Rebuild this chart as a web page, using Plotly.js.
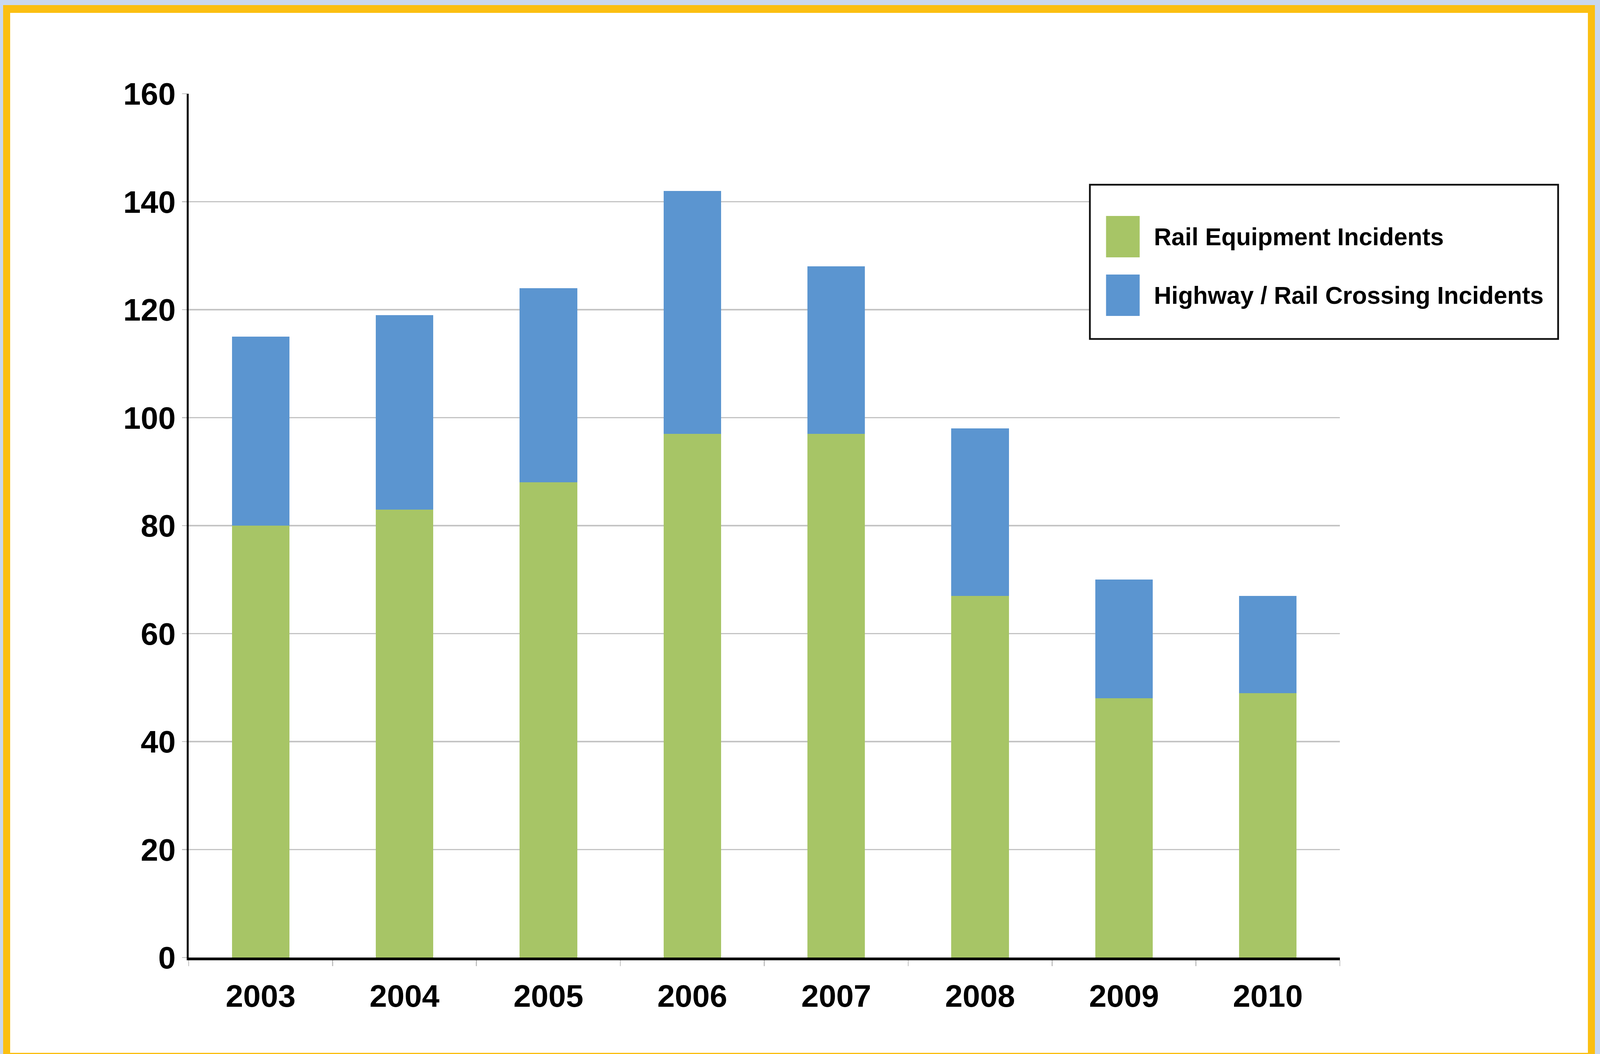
<!DOCTYPE html>
<html>
<head>
<meta charset="utf-8">
<script src="https://cdn.plot.ly/plotly-3.0.1.min.js"></script>
<style>
  html, body { margin:0; padding:0; width:100%; height:100%; background:#c9d8ef; overflow:hidden; }
  #frame { position:absolute; box-sizing:border-box; border-style:solid; border-color:#fbbf12; background:#ffffff; }
  #chart { position:absolute; left:0; top:0; }
</style>
</head>
<body>
<div id="frame"></div>
<div id="chart"></div>
<script>
// ---- data ----
const years = ['2003', '2004', '2005', '2006', '2007', '2008', '2009', '2010'];
const railEquipment = [80, 83, 88, 97, 97, 67, 48, 49];
const highwayCrossing = [35, 36, 36, 45, 31, 31, 22, 18];
const seriesNames = ['Rail Equipment Incidents', 'Highway / Rail Crossing Incidents'];
const yTicks = [0, 20, 40, 60, 80, 100, 120, 140, 160];

const colors = ['#a7c566', '#5b95d0'];

// ---- map the 4949x2699 design onto the real viewport ----
const DW = 4949, DH = 2699;
const VW = window.innerWidth || DW, VH = window.innerHeight || DH;
const sx = VW / DW, sy = VH / DH, s = Math.sqrt(sx * sy);

// pick a condensed face if present (reference lettering is condensed)
function textWidth(txt, fam) {
  const c = document.createElement('canvas').getContext('2d');
  c.font = 'bold 100px ' + fam;
  return c.measureText(txt).width;
}
const probe = 'Rail Equipment Incidents 2003';
const hasNarrow = Math.abs(textWidth(probe, '"Liberation Sans Narrow", monospace') - textWidth(probe, 'monospace')) > 1;
const fontFamily = hasNarrow ? '"Liberation Sans Narrow", "Liberation Sans", Arial, sans-serif'
                             : '"Liberation Sans", Arial, Helvetica, sans-serif';
const legendSize = Math.min(1218 * sx / textWidth(seriesNames[1], fontFamily) * 100 * 0.99, 92 * sy);
const tickSize = Math.min(208 * sx / textWidth('2003', fontFamily) * 100 * 1.04, 100 * sy);

// frame (yellow border)
const fr = document.getElementById('frame');
fr.style.left = (10 * sx) + 'px';
fr.style.top = (13 * sy) + 'px';
fr.style.width = ((4933 - 10) * sx) + 'px';
fr.style.height = ((2716 - 13) * sy) + 'px';
fr.style.borderWidth = (20 * sy) + 'px ' + (22 * sx) + 'px';

const traces = [
  { type:'bar', x: years, y: railEquipment, name: seriesNames[0], marker:{color: colors[0]}, showlegend:false },
  { type:'bar', x: years, y: highwayCrossing, name: seriesNames[1], marker:{color: colors[1]}, showlegend:false }
];

// plot area in design pixels: x 584..4144, y 240..2452
const L = 584, R = 4144, T = 240, B = 2452;
const px = v => (v - L) / (R - L);
const py = v => (B - v) / (B - T);

const shapes = [
  { type:'rect', xref:'paper', yref:'paper', x0:px(3371), x1:px(4819), y0:py(868), y1:py(473),
    line:{color:'#111111', width:5 * s}, fillcolor:'#ffffff', layer:'above' },
  { type:'rect', xref:'paper', yref:'paper', x0:px(3421), x1:px(3525), y0:py(659), y1:py(553),
    line:{width:0}, fillcolor: colors[0], layer:'above' },
  { type:'rect', xref:'paper', yref:'paper', x0:px(3421), x1:px(3525), y0:py(809), y1:py(703),
    line:{width:0}, fillcolor: colors[1], layer:'above' }
];

const annotations = [
  { xref:'paper', yref:'paper', x:px(3566), y:py(606), xanchor:'left', yanchor:'middle', showarrow:false,
    text: seriesNames[0], font:{family:fontFamily, size:legendSize, color:'#000000', weight:'bold'} },
  { xref:'paper', yref:'paper', x:px(3566), y:py(757), xanchor:'left', yanchor:'middle', showarrow:false,
    text: seriesNames[1], font:{family:fontFamily, size:legendSize, color:'#000000', weight:'bold'} }
];

const layout = {
  width: VW, height: VH,
  margin: { l: L * sx, r: VW - R * sx, t: T * sy, b: VH - B * sy, pad: 0 },
  paper_bgcolor: 'rgba(0,0,0,0)',
  plot_bgcolor: 'rgba(0,0,0,0)',
  barmode: 'stack',
  bargap: 0.6,
  showlegend: false,
  font: { family: fontFamily, color:'#000000' },
  xaxis: {
    type:'category',
    showline:true, linecolor:'#000000', linewidth:8 * s,
    showgrid:false, zeroline:false,
    ticks:'outside', tickson:'boundaries', ticklen:15 * sy, tickwidth:3 * s, tickcolor:'#c0c0c0',
    tickfont:{ family:fontFamily, size:tickSize, color:'#000000', weight:'bold' },
    ticklabelstandoff: 22 * sy
  },
  yaxis: {
    range:[0,160], tickvals: yTicks, ticktext: yTicks.map(String),
    showline:true, linecolor:'#000000', linewidth:6 * s,
    showgrid:true, gridcolor:'#c4c4c4', gridwidth:4 * s, zeroline:false,
    ticks:'outside', ticklen:14 * sx, tickwidth:3 * s, tickcolor:'#c0c0c0',
    tickfont:{ family:fontFamily, size:tickSize, color:'#000000', weight:'bold' },
    ticklabelstandoff: 12 * sx
  },
  shapes: shapes,
  annotations: annotations
};

Plotly.newPlot('chart', traces, layout, { displayModeBar:false, staticPlot:true });
</script>
</body>
</html>
